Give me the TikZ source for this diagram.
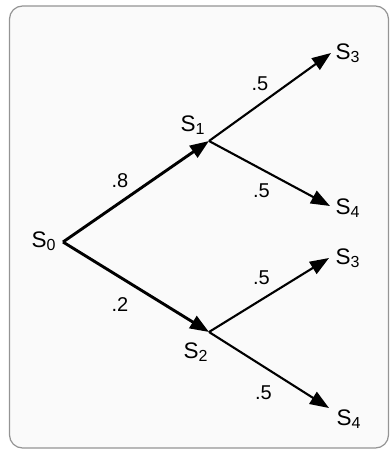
\documentclass[tikz,border=0pt]{standalone}
\usepackage{fontspec}
\setmainfont{Liberation Sans}
\usetikzlibrary{arrows.meta}
\newcommand\ssub[1]{\raisebox{-3pt}{\fontsize{16}{17}\selectfont #1}}
\tikzset{
  frame/.style={draw=black!42, fill=black!2, line width=1.2pt, rounded corners=13pt},
  statelbl/.style={inner sep=0pt, anchor=base west, font=\fontsize{22.5}{24}\selectfont},
  problbl/.style={inner sep=0pt, font=\fontsize{20}{21}\selectfont},
  edgeA/.style={line width=2.9pt, -{Triangle[length=19pt,width=14pt]}},
  edgeB/.style={line width=2.1pt, -{Triangle[length=19pt,width=14pt]}},
}
\begin{document}
\begin{tikzpicture}[x=1pt,y=1pt]
\useasboundingbox (0,0) rectangle (389,450);
\begin{scope}
\clip (0,0) rectangle (389,450);
\draw[frame] (9.5,2) rectangle (388.5,444);
\end{scope}
% junction points
\coordinate (s0) at (63,208);
\coordinate (s1) at (209,309);
\coordinate (s2) at (209,118);
\coordinate (s3a) at (331,397);
\coordinate (s4a) at (330,244);
\coordinate (s3b) at (329,192);
\coordinate (s4b) at (329,42);
% connectors
\draw[edgeA] (s0) -- (s1);
\draw[edgeA] (s0) -- (s2);
\draw[edgeB] (s1) -- (s3a);
\draw[edgeB] (s1) -- (s4a);
\draw[edgeB] (s2) -- (s3b);
\draw[edgeB] (s2) -- (s4b);
% state labels
\node[statelbl] (l0) at (31.5,202) {S\ssub{0}};
\node[statelbl] (l1) at (180.5,318) {S\ssub{1}};
\node[statelbl] (l2) at (183.5,91) {S\ssub{2}};
\node[statelbl] (l3a) at (335.5,390) {S\ssub{3}};
\node[statelbl] (l4a) at (335.5,235) {S\ssub{4}};
\node[statelbl] (l3b) at (335.5,185) {S\ssub{3}};
\node[statelbl] (l4b) at (336.5,24) {S\ssub{4}};
% probability labels
\node[problbl] (p1) at (120,269.5) {.8};
\node[problbl] (p2) at (120,145.5) {.2};
\node[problbl] (p3) at (260,366.5) {.5};
\node[problbl] (p4) at (261.5,259.5) {.5};
\node[problbl] (p5) at (261.5,172.5) {.5};
\node[problbl] (p6) at (263.5,57.5) {.5};
\end{tikzpicture}
\end{document}
